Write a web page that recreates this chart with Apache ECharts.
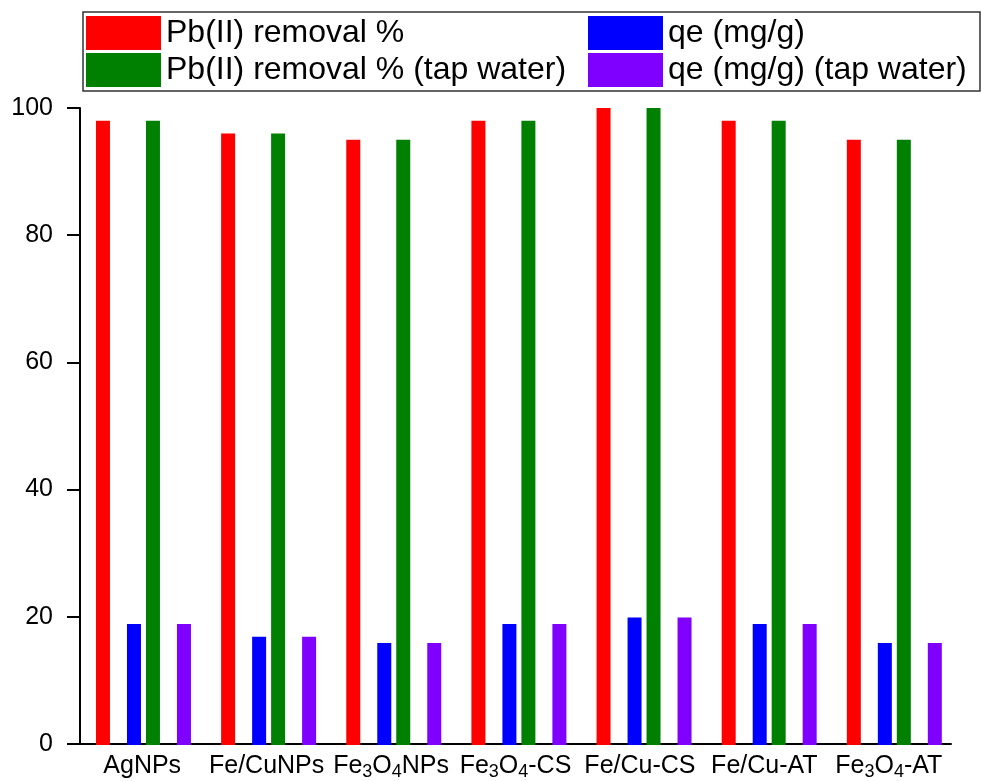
<!DOCTYPE html>
<html>
<head>
<meta charset="utf-8">
<script src="https://cdn.jsdelivr.net/npm/echarts@6/dist/echarts.min.js"></script>
<style>
html,body{margin:0;padding:0;background:#fff;}
#chart{width:981px;height:781px;}
</style>
</head>
<body>
<div id="chart"></div>
<script>
const categories = ['AgNPs', 'Fe/CuNPs', 'Fe3O4NPs', 'Fe3O4-CS', 'Fe/Cu-CS', 'Fe/Cu-AT', 'Fe3O4-AT'];
const removal = [98, 96, 95, 98, 100, 98, 95];
const removalTap = [98, 96, 95, 98, 100, 98, 95];
const qe = [19, 17, 16, 19, 20, 19, 16];
const qeTap = [19, 17, 16, 19, 20, 19, 16];
const yTicks = { min: 0, max: 100, interval: 20 };
const names = ['Pb(II) removal %', 'qe (mg/g)', 'Pb(II) removal % (tap water)', 'qe (mg/g) (tap water)'];

const FONT = '"Liberation Sans", Arial, sans-serif';
const chart = echarts.init(document.getElementById('chart'), null, { renderer: 'canvas' });

function labelFmt(v) {
  return v.replace(/(\d)/g, '{sub|$1}').replace(/([^}{|\d]+)(?![^{]*\})/g, '{n|$1}');
}

const hiddenX = { type: 'category', data: categories, show: false, boundaryGap: true };
const hiddenY = { type: 'value', min: yTicks.min, max: yTicks.max, show: false };

const option = {
  backgroundColor: '#fff',
  animation: false,
  textStyle: { fontFamily: FONT },
  graphic: [{
    type: 'rect', silent: true,
    shape: { x: 83, y: 12, width: 897, height: 79 },
    style: { fill: 'none', stroke: '#333', lineWidth: 1.5 }
  }],
  legend: [
    {
      orient: 'vertical', left: 86, top: 16, itemWidth: 75, itemHeight: 34, itemGap: 3,
      icon: 'rect', padding: 0,
      data: [names[0], names[2]],
      textStyle: { fontSize: 32, color: '#000', fontFamily: FONT }
    },
    {
      orient: 'vertical', left: 588, top: 16, itemWidth: 75, itemHeight: 34, itemGap: 3,
      icon: 'rect', padding: 0,
      data: [names[1], names[3]],
      textStyle: { fontSize: 32, color: '#000', fontFamily: FONT }
    }
  ],
  grid: [
    { left: 80, top: 108, width: 871, height: 637 },
    { left: 65.4, top: 108, width: 876, height: 637 },
    { left: 96.4, top: 108, width: 876, height: 637 }
  ],
  xAxis: [
    {
      type: 'category', data: categories, gridIndex: 0, boundaryGap: true,
      axisLine: { show: true, lineStyle: { color: '#000', width: 2 } },
      axisTick: { show: false },
      axisLabel: {
        interval: 0, margin: 7, color: '#000', fontSize: 25, fontFamily: FONT,
        formatter: labelFmt,
        rich: {
          n: { fontSize: 25, color: '#000', fontFamily: FONT, lineHeight: 30, verticalAlign: 'middle' },
          sub: { fontSize: 18, color: '#000', fontFamily: FONT, lineHeight: 18, verticalAlign: 'bottom' }
        }
      },
      splitLine: { show: false }
    },
    Object.assign({ gridIndex: 1 }, hiddenX),
    Object.assign({ gridIndex: 2 }, hiddenX)
  ],
  yAxis: [
    {
      type: 'value', gridIndex: 0, min: yTicks.min, max: yTicks.max, interval: yTicks.interval,
      axisLine: { show: true, lineStyle: { color: '#000', width: 2 } },
      axisTick: { show: true, inside: false, length: 13, lineStyle: { color: '#000', width: 2 } },
      axisLabel: { color: '#000', fontSize: 25, margin: 27, fontFamily: FONT },
      splitLine: { show: false }
    },
    Object.assign({ gridIndex: 1 }, hiddenY),
    Object.assign({ gridIndex: 2 }, hiddenY)
  ],
  series: [
    { name: names[0], type: 'bar', xAxisIndex: 1, yAxisIndex: 1, data: removal, barWidth: 14, barGap: '257%', itemStyle: { color: '#FF0000' } },
    { name: names[1], type: 'bar', xAxisIndex: 2, yAxisIndex: 2, data: qe, barWidth: 14, barGap: '257%', itemStyle: { color: '#0000FF' } },
    { name: names[2], type: 'bar', xAxisIndex: 1, yAxisIndex: 1, data: removalTap, barWidth: 14, barGap: '257%', itemStyle: { color: '#008000' } },
    { name: names[3], type: 'bar', xAxisIndex: 2, yAxisIndex: 2, data: qeTap, barWidth: 14, barGap: '257%', itemStyle: { color: '#8000FF' } }
  ]
};
chart.setOption(option);
</script>
</body>
</html>
